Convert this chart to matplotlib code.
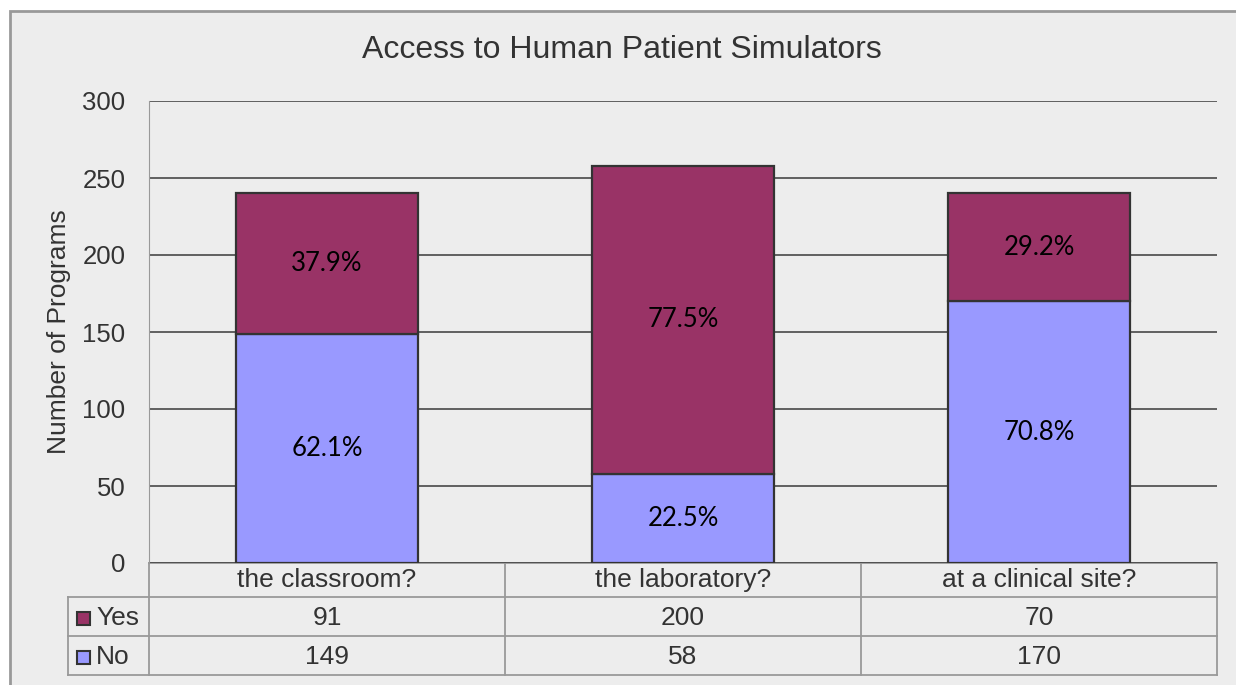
import numpy as np
import matplotlib.pyplot as plt
from matplotlib.patches import Rectangle
from matplotlib.transforms import blended_transform_factory

# 資料
categories = ['the classroom?', 'the laboratory?', 'at a clinical site?']
yes_vals = [91, 200, 70]
no_vals = [149, 58, 170]
series_names = ['Yes', 'No']
yes_color = '#993366'
no_color = '#9999FF'

W, H = 1236, 685
fig = plt.figure(figsize=(W / 100, H / 100), dpi=100)
fig.patch.set_facecolor('white')


def fx(px):
    return px / W


def fy(py):
    return 1 - py / H


# 灰底外框
fig.patches.append(Rectangle((fx(10), fy(H + 5)), fx(W + 5) - fx(10), fy(11) - fy(H + 5),
                             transform=fig.transFigure, facecolor='#EDEDED',
                             edgecolor='#999999', lw=2, zorder=-10))

L, R, T, B = 149, 1217, 101, 563
ax = fig.add_axes([fx(L), fy(B), fx(R) - fx(L), fy(T) - fy(B)])
ax.set_facecolor('none')
ax.set_zorder(2)

x = np.arange(len(categories))
yes = np.array(yes_vals)
no = np.array(no_vals)
tot = yes + no
bw = 0.51
ax.bar(x, no, bw, color=no_color, edgecolor='#333333', lw=1.6, zorder=3)
ax.bar(x, yes, bw, bottom=no, color=yes_color, edgecolor='#333333', lw=1.6, zorder=3)

for i in range(len(x)):
    ax.text(x[i], no[i] / 2, f'{no[i] / tot[i] * 100:.1f}%', ha='center', va='center',
            fontsize=18.5, family='Lato', color='black', zorder=4)
    ax.text(x[i], no[i] + yes[i] / 2, f'{yes[i] / tot[i] * 100:.1f}%', ha='center',
            va='center', fontsize=18.5, family='Lato', color='black', zorder=4)

ax.set_xlim(-0.5, 2.5)
ax.set_ylim(0, 300)
ax.set_yticks(np.arange(0, 301, 50))
ax.set_xticks([])
ax.yaxis.grid(True, color='#3a3a3a', lw=1.1)
ax.set_axisbelow(True)
ax.tick_params(axis='y', length=0, pad=17, labelsize=18.5, labelcolor='#333333')
for lab in ax.get_yticklabels():
    lab.set_family('Liberation Sans')
for s in ['top', 'right', 'bottom']:
    ax.spines[s].set_visible(False)
ax.spines['left'].set_color('#999999')
ax.set_ylabel('Number of Programs', fontsize=19, family='Liberation Sans', color='#333333')
ax.yaxis.set_label_coords((71 - L) / (R - L), 0.5)

fig.text(fx(622), fy(50), 'Access to Human Patient Simulators', ha='center', va='center',
         fontsize=23, family='Liberation Sans', color='#333333')

# 資料表
grid = '#999999'
rows_y = [563, 597, 636, 675]
col_x = [149, 505, 861, 1217]
lk = dict(color=grid, lw=1.3, transform=fig.transFigure)
fig.add_artist(plt.Line2D([fx(149), fx(1217)], [fy(563), fy(563)], **lk))
for yy in rows_y[1:]:
    fig.add_artist(plt.Line2D([fx(68), fx(1217)], [fy(yy), fy(yy)], **lk))
for xx in col_x:
    fig.add_artist(plt.Line2D([fx(xx), fx(xx)], [fy(563), fy(675)], **lk))
fig.add_artist(plt.Line2D([fx(68), fx(68)], [fy(597), fy(675)], **lk))

tr = blended_transform_factory(ax.transData, fig.transFigure)
txt = dict(ha='center', va='center', fontsize=19, family='Liberation Sans', color='#333333')
for i, c in enumerate(categories):
    ax.text(x[i], fy(580), c, transform=tr, **txt)
    ax.text(x[i], fy(618), str(yes[i]), transform=tr, **txt)
    ax.text(x[i], fy(657), str(no[i]), transform=tr, **txt)

for name, col, yc in zip(series_names, [yes_color, no_color], [618, 657]):
    fig.patches.append(Rectangle((fx(77), fy(yc + 7)), fx(13), fy(0) - fy(13),
                                 transform=fig.transFigure, facecolor=col,
                                 edgecolor='#333333', lw=1.5))
    fig.text(fx(96), fy(yc), name, ha='left', va='center', fontsize=19,
             family='Liberation Sans', color='#333333')

fig.savefig('out.png', dpi=100)
